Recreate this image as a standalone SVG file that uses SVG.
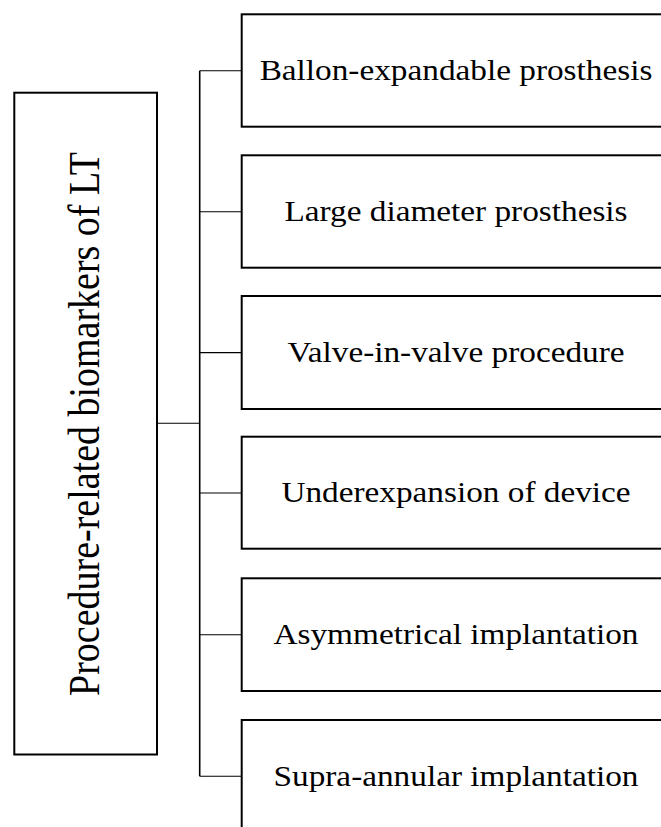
<svg xmlns="http://www.w3.org/2000/svg" width="661" height="827" viewBox="0 0 661 827">
<style>
.box{fill:#fff;stroke:#000;stroke-width:2}
.lbl{font-family:"Liberation Serif","Times New Roman",serif;font-size:29px;fill:#000;text-anchor:middle}
.main{font-family:"Liberation Serif","Times New Roman",serif;font-size:38px;fill:#000;text-anchor:middle}
.trunk{stroke:#000;stroke-width:1.6;fill:none}
.br{stroke:#000;stroke-width:1.1;fill:none}
</style>
<rect width="661" height="827" fill="#fff"/>
<g id="connectors">
<line class="trunk" x1="199.7" y1="70.7" x2="199.7" y2="776.3"/>
<line class="br" x1="157" y1="423.3" x2="199.7" y2="423.3"/>
<line class="br" x1="199.7" y1="70.7" x2="241.7" y2="70.7"/>
<line class="br" x1="199.7" y1="211.8" x2="241.7" y2="211.8"/>
<line class="br" x1="199.7" y1="352.6" x2="241.7" y2="352.6"/>
<line class="br" x1="199.7" y1="493" x2="241.7" y2="493"/>
<line class="br" x1="199.7" y1="634.8" x2="241.7" y2="634.8"/>
<line class="br" x1="199.7" y1="776.3" x2="241.7" y2="776.3"/>
</g>
<g id="root">
<rect class="box" x="14.3" y="92.7" width="142.7" height="661.8"/>
<text class="main" transform="translate(99 424) scale(1.148 1) rotate(-90)" x="0" y="0">Procedure-related biomarkers of LT</text>
</g>
<g id="n1">
<rect class="box" x="241.7" y="14.3" width="430" height="112.4"/>
<text class="lbl" transform="matrix(1.148 0 0 1 456 79.5)" x="0" y="0">Ballon-expandable prosthesis</text>
</g>
<g id="n2">
<rect class="box" x="241.7" y="155.3" width="430" height="112.4"/>
<text class="lbl" transform="matrix(1.148 0 0 1 456 221)" x="0" y="0">Large diameter prosthesis</text>
</g>
<g id="n3">
<rect class="box" x="241.7" y="296" width="430" height="113"/>
<text class="lbl" transform="matrix(1.148 0 0 1 456 361.7)" x="0" y="0">Valve-in-valve procedure</text>
</g>
<g id="n4">
<rect class="box" x="241.7" y="436.7" width="430" height="112"/>
<text class="lbl" transform="matrix(1.148 0 0 1 456 502.2)" x="0" y="0">Underexpansion of device</text>
</g>
<g id="n5">
<rect class="box" x="241.7" y="578.3" width="430" height="112.7"/>
<text class="lbl" transform="matrix(1.148 0 0 1 456 644)" x="0" y="0">Asymmetrical implantation</text>
</g>
<g id="n6">
<rect class="box" x="241.7" y="720" width="430" height="130"/>
<text class="lbl" transform="matrix(1.148 0 0 1 456 785.5)" x="0" y="0">Supra-annular implantation</text>
</g>
</svg>
